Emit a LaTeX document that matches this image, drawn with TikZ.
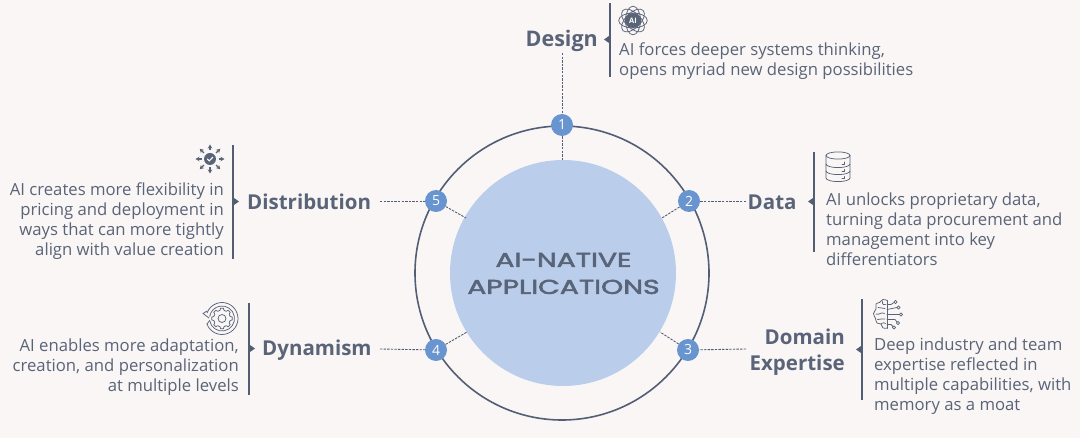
\documentclass[tikz,border=0pt]{standalone}
\usepackage{fontspec}
\setmainfont{Open Sans}
\newfontfamily\wide[FakeBold=2.4]{Poppins}
\usetikzlibrary{calc,arrows.meta}
\definecolor{bg}{HTML}{F9F6F5}
\definecolor{ink}{HTML}{5A6478}
\definecolor{ring}{HTML}{535D73}
\definecolor{disc}{HTML}{BACEEC}
\definecolor{badge}{HTML}{6894CF}
\tikzset{
 x=1pt,y=-1pt,
 body/.style={text=ink,font=\fontsize{16.7}{20}\selectfont,inner sep=0pt},
 head/.style={text=ink,font=\fontsize{20.5}{26}\selectfont\bfseries,inner sep=0pt,align=right},
 numb/.style={circle,fill=badge,text=white,minimum size=22pt,inner sep=0pt,font=\fontsize{14}{14}\selectfont},
 link/.style={draw=ring,line width=.9pt,dash pattern=on 2.4pt off 1.2pt},
 bar/.style={draw=ring,line width=1.4pt},
 tip/.style={fill=ring,draw=none},
 ico/.style={draw=ink,line width=.75pt,fill=none,line join=round,line cap=round},
}
\begin{document}
\begin{tikzpicture}
\path[fill=bg] (0,0) rectangle (1080,438);
\useasboundingbox (0,0) rectangle (1080,438);
\draw[draw=ring,line width=1.6pt] (562,273) circle (147);
\node[circle,fill=disc,minimum size=226pt,inner sep=0pt] (core) at (563,273) {};
\node[text=ink,align=center,inner sep=0pt,font=\wide\fontsize{20}{27}\selectfont] (title) at (563.5,273.5) {\scalebox{1.41}[1]{AI-NATIVE}\\\scalebox{1.41}[1]{APPLICATIONS}};
\node[numb] (n1) at (562,125) {1};
\node[numb] (n2) at (689,201) {2};
\node[numb] (n3) at (688,350) {3};
\node[numb] (n4) at (436,350) {4};
\node[numb] (n5) at (436,201) {5};
\coordinate (e1) at (562,53); \coordinate (i1) at (562,160);
\coordinate (e2) at (746,201); \coordinate (i2) at (662,218);
\coordinate (e3) at (746,349); \coordinate (i3) at (660,332);
\coordinate (e4) at (380,349); \coordinate (i4) at (467,332);
\coordinate (e5) at (380,201); \coordinate (i5) at (466,218);
\foreach \k in {1,...,5}{\draw[link] (e\k) -- (n\k); \draw[link] (n\k) -- (i\k);}
% headings
\node[head,anchor=east,font=\fontsize{21.5}{26}\selectfont\bfseries] (h1) at (598,41) {Design};
\node[head,anchor=west] (h5) at (247,202) {Distribution};
\node[head,anchor=west] (h2) at (747.5,202) {Data};
\node[head,anchor=west] (h4) at (262,350) {Dynamism};
\node[head,anchor=east] (h3) at (845,352) {Domain\\Expertise};
% bars
\coordinate (b1a) at (610,3); \coordinate (b1b) at (610,77);
\coordinate (b5a) at (233,145); \coordinate (b5b) at (233,259);
\coordinate (b2a) at (814,152); \coordinate (b2b) at (814,252);
\coordinate (b4a) at (249,303); \coordinate (b4b) at (249,395);
\coordinate (b3a) at (862,299); \coordinate (b3b) at (862,400);
\foreach \k in {1,...,5}{\draw[bar] (b\k a) -- (b\k b);}
\path[tip] (609,36) -- (604,39.5) -- (609,43) -- cycle;
\path[tip] (234,198) -- (239,201.5) -- (234,205) -- cycle;
\path[tip] (813,198) -- (808,201.5) -- (813,205) -- cycle;
\path[tip] (250,345) -- (255,348.5) -- (250,352) -- cycle;
\path[tip] (861,346) -- (856,349.5) -- (861,353) -- cycle;
% body text
\node[body,anchor=west,align=left] (t1) at (619,61) {AI forces deeper systems thinking,\\opens myriad new design possibilities};
\node[body,anchor=east,align=right] (t5) at (224,221) {AI creates more flexibility in\\pricing and deployment in\\ways that can more tightly\\align with value creation};
\node[body,anchor=west,align=left] (t2) at (826,229) {AI unlocks proprietary data,\\turning data procurement and\\management into key\\differentiators};
\node[body,anchor=east,align=right] (t4) at (239,367) {AI enables more adaptation,\\creation, and personalization\\at multiple levels};
\node[body,anchor=west,align=left] (t3) at (874,376) {Deep industry and team\\expertise reflected in\\multiple capabilities, with\\memory as a moat};
% icon: atom
\begin{scope}[shift={(633,20.5)}]
 \foreach \r in {0,45,90,135}{\draw[ico,rotate=\r] (0,0) ellipse (14.3 and 7.5);}
 \fill[ink] (0,0) circle (7.5);
 \node[text=white,inner sep=0pt,font=\fontsize{7.5}{7.5}\selectfont\bfseries] (atomai) at (0,0) {AI};
\end{scope}
% icon: sun with check
\begin{scope}[shift={(210,159)}]
 \fill[ink] (0,0) circle (6);
 \draw[white,line width=1.1pt,line cap=round] (-2.6,0) -- (-.7,1.8) -- (2.8,-1.8);
 \foreach \r in {0,45,...,315}{\draw[draw=ink,line width=1.4pt,-{Stealth[length=4pt,width=4.5pt]}] (\r:8.5) -- (\r:14.5);}
\end{scope}
% icon: database
\begin{scope}[shift={(838,167)}]
 \draw[ico] (0,-11.5) ellipse (12 and 3.6);
 \draw[ico] (-12,-11.5) -- (-12,11) arc[start angle=180,end angle=0,x radius=12,y radius=3.6] -- (12,-11.5);
 \draw[ico] (-12,-3) arc[start angle=180,end angle=0,x radius=12,y radius=3.6];
 \draw[ico] (-12,4) arc[start angle=180,end angle=0,x radius=12,y radius=3.6];
 \foreach \y in {-3,4.5,11.5}{\draw[ico,line width=.6pt] (4,\y) -- (6.5,\y) -- (6.5,\y-2);}
\end{scope}
% icon: gear in cycle
\begin{scope}[shift={(222,318.5)}]
 \draw[ico] (160:16) arc[start angle=160,end angle=-160,radius=16];
 \draw[ico] (170:12.5) arc[start angle=170,end angle=-170,radius=12.5];
 \draw[ico] (-19,-5) -- (-15,-7.5);
 \draw[ico] (-19,-5) -- (-13,-.5);
 \draw[ico] (-12.3,2) -- (-15,5.5);
 \draw[ico] (0,0) circle (4);
 \draw[ico] (-14:8.4) \foreach \r in {0,45,...,315}{ -- (\r-14:8.4) -- (\r-8:10.3) -- (\r+8:10.3) -- (\r+14:8.4)} -- cycle;
\end{scope}
% icon: brain and circuit
\begin{scope}[shift={(887,314.5)}]
 \draw[ico] (0,-14) -- (0,14);
 \draw[ico] plot[smooth,tension=.7] coordinates {(0,-14) (-4,-15) (-7.5,-12) (-11,-10.5) (-11,-5.5) (-13.5,-1) (-11.5,4) (-10,8.5) (-6,9.5) (-4,13.5) (0,13.5)};
 \draw[ico] (-9,-7) .. controls (-6,-8) and (-5,-5) .. (-2,-6);
 \draw[ico] (-4.5,-13) .. controls (-5,-10) and (-3,-9) .. (-1.5,-10);
 \draw[ico] (-11,-.5) .. controls (-8,1) and (-6,-3) .. (-2.5,-1);
 \draw[ico] (-9.5,5) .. controls (-7,3) and (-5,6) .. (-2,4.5);
 \draw[ico] (-5.5,9) .. controls (-4,7) and (-2.5,9) .. (-1.5,9);
 \draw[ico] (0,-10) -- (4,-10) -- (7,-12) (0,-5) -- (10,-7) (0,0) -- (12,0) (0,5) -- (8,5) -- (10,7.5) (0,10) -- (4,10) -- (6,12);
 \foreach \p in {(8.5,-12.5),(11.5,-7),(14,0),(11,8.5),(7,13)}{\draw[ico,fill=bg] \p circle (1.6);}
\end{scope}
\end{tikzpicture}
\end{document}
